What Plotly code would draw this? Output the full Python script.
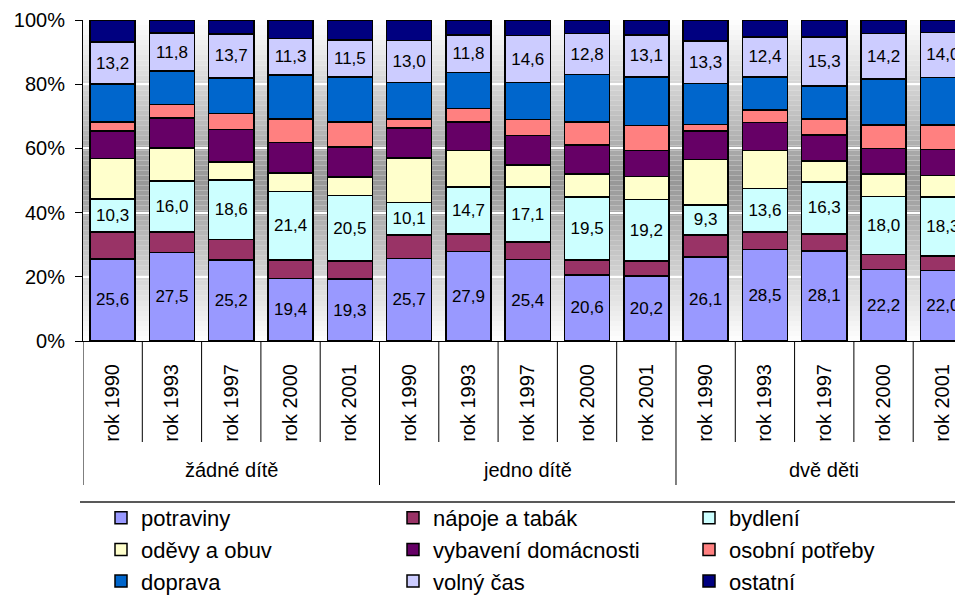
import plotly.graph_objects as go

years = ["rok 1990", "rok 1993", "rok 1997", "rok 2000", "rok 2001"] * 3
groups = ["žádné dítě", "jedno dítě", "dvě děti"]

series_names = ["potraviny", "nápoje a tabák", "bydlení", "oděvy a obuv",
                "vybavení domácnosti", "osobní potřeby", "doprava", "volný čas", "ostatní"]

potraviny = [25.6, 27.5, 25.2, 19.4, 19.3, 25.7, 27.9, 25.4, 20.6, 20.2, 26.1, 28.5, 28.1, 22.2, 22.0]
napoje = [8.3, 6.4, 6.4, 5.8, 5.6, 7.3, 5.4, 5.5, 4.7, 4.7, 7.0, 5.4, 5.2, 4.8, 4.5]
bydleni = [10.3, 16.0, 18.6, 21.4, 20.5, 10.1, 14.7, 17.1, 19.5, 19.2, 9.3, 13.6, 16.3, 18.0, 18.3]
odevy = [12.6, 10.3, 5.6, 5.7, 5.7, 13.9, 11.3, 6.9, 7.3, 7.1, 14.2, 11.8, 6.5, 7.0, 6.7]
vybaveni = [8.6, 9.3, 10.1, 9.5, 9.3, 9.4, 8.9, 9.1, 8.9, 8.1, 8.8, 8.7, 8.0, 8.0, 8.2]
osobni = [2.8, 4.2, 5.0, 7.3, 7.9, 2.8, 4.3, 5.0, 7.3, 7.8, 2.1, 4.0, 5.0, 7.3, 7.6]
doprava = [11.8, 10.4, 11.1, 13.8, 14.0, 11.4, 11.1, 11.5, 14.7, 15.2, 12.7, 10.3, 10.3, 14.3, 14.8]
volny = [13.2, 11.8, 13.7, 11.3, 11.5, 13.0, 11.8, 14.6, 12.8, 13.1, 13.3, 12.4, 15.3, 14.2, 14.0]
ostatni = [6.8, 4.1, 4.3, 5.8, 6.2, 6.4, 4.6, 4.9, 4.2, 4.6, 6.5, 5.3, 5.3, 4.2, 3.9]

y_ticks = [0, 20, 40, 60, 80, 100]
y_ticktext = ["0%", "20%", "40%", "60%", "80%", "100%"]

values = [potraviny, napoje, bydleni, odevy, vybaveni, osobni, doprava, volny, ostatni]
colors = ["#9999FF", "#993366", "#CCFFFF", "#FFFFCC", "#660066",
          "#FF8080", "#0066CC", "#CCCCFF", "#000080"]
labeled = {0, 2, 7}

FONT = "Liberation Sans, Arial, sans-serif"
x = list(range(len(years)))

fig = go.Figure()
legend_ids = ["legend", "legend2", "legend3"]
for i, (name, vals, col) in enumerate(zip(series_names, values, colors)):
    kw = {}
    if i in labeled:
        kw = dict(text=[f"{v:.1f}".replace(".", ",") for v in vals],
                  textposition="inside", insidetextanchor="middle",
                  textangle=0, textfont=dict(size=17, color="black", family=FONT))
    fig.add_trace(go.Bar(x=x, y=vals, name=name,
                         marker=dict(color=col, line=dict(color="black", width=1.5)),
                         legend=legend_ids[i % 3], hoverinfo="skip", **kw))

# page body has an 8px margin: the figure is offset by that much in the window
OFF = 8
W, H = 963 - OFF, 596 - OFF
L, T, B_PX = 83 - OFF, 20 - OFF, 341 - OFF
PW = W - L
PH = B_PX - T


def py(Y):  # Y in window pixels
    return (B_PX - (Y - OFF)) / PH


def px(X):  # X in window pixels
    return ((X - OFF) - L) / PW


shapes = []
# gradient background bands
N = 64
for k in range(N):
    v0 = 100 * k / N
    v1 = 100 * (k + 1) / N
    vc = (v0 + v1) / 2
    t = abs(vc - 50) / 50
    g = int(round(150 + 105 * t))
    shapes.append(dict(type="rect", xref="paper", yref="y", x0=0, x1=1, y0=v0, y1=v1,
                       fillcolor=f"rgb({g},{g},{g})", line=dict(width=0), layer="below"))

# category separators / ticks
for b in range(0, 15):
    xb = b - 0.5
    ybot = py(485) if b % 5 == 0 else py(442)
    shapes.append(dict(type="line", xref="x", yref="paper", x0=xb, x1=xb, y0=0, y1=ybot,
                       line=dict(color="black", width=1)))

# legend top border
shapes.append(dict(type="line", xref="paper", yref="paper", x0=px(80), x1=1.02,
                   y0=py(502), y1=py(502), line=dict(color="#222222", width=1.5)))

annotations = []
for gi, gname in enumerate(groups):
    annotations.append(dict(text=gname, x=gi * 5 + 2, xref="x", y=py(470), yref="paper",
                            showarrow=False, font=dict(size=20, family=FONT, color="black"),
                            xanchor="center", yanchor="middle"))

legend_common = dict(orientation="v", xref="paper", yref="paper", traceorder="normal",
                     yanchor="top", xanchor="left", bgcolor="rgba(0,0,0,0)",
                     borderwidth=0, font=dict(size=22, family=FONT, color="black"),
                     itemclick=False, itemdoubleclick=False)
leg_top = py(497)

fig.update_layout(
    width=W, height=H,
    margin=dict(l=L, r=0, t=T, b=H - B_PX, pad=0, autoexpand=False),
    paper_bgcolor="white", plot_bgcolor="white",
    barmode="stack", bargap=0.24,
    font=dict(family=FONT, color="black"),
    showlegend=True,
    legend=dict(x=px(101), y=leg_top, **legend_common),
    legend2=dict(x=px(393), y=leg_top, **legend_common),
    legend3=dict(x=px(689), y=leg_top, **legend_common),
    xaxis=dict(range=[-0.5, 14.34], tickvals=x, ticktext=years, tickangle=-90,
               showline=True, linecolor="black", linewidth=1, ticks="",
               showgrid=False, zeroline=False, tickfont=dict(size=20, family=FONT),
               ticklabelstandoff=14, automargin=False),
    yaxis=dict(range=[0, 100], tickvals=y_ticks, ticktext=y_ticktext,
               ticks="outside", ticklen=7, tickcolor="black", showline=True,
               linecolor="black", linewidth=1, showgrid=True, gridcolor="white",
               gridwidth=1.5, zeroline=False, tickfont=dict(size=20, family=FONT),
               ticklabelstandoff=6, automargin=False),
    shapes=shapes,
    annotations=annotations,
)

fig.write_html("out.html")
